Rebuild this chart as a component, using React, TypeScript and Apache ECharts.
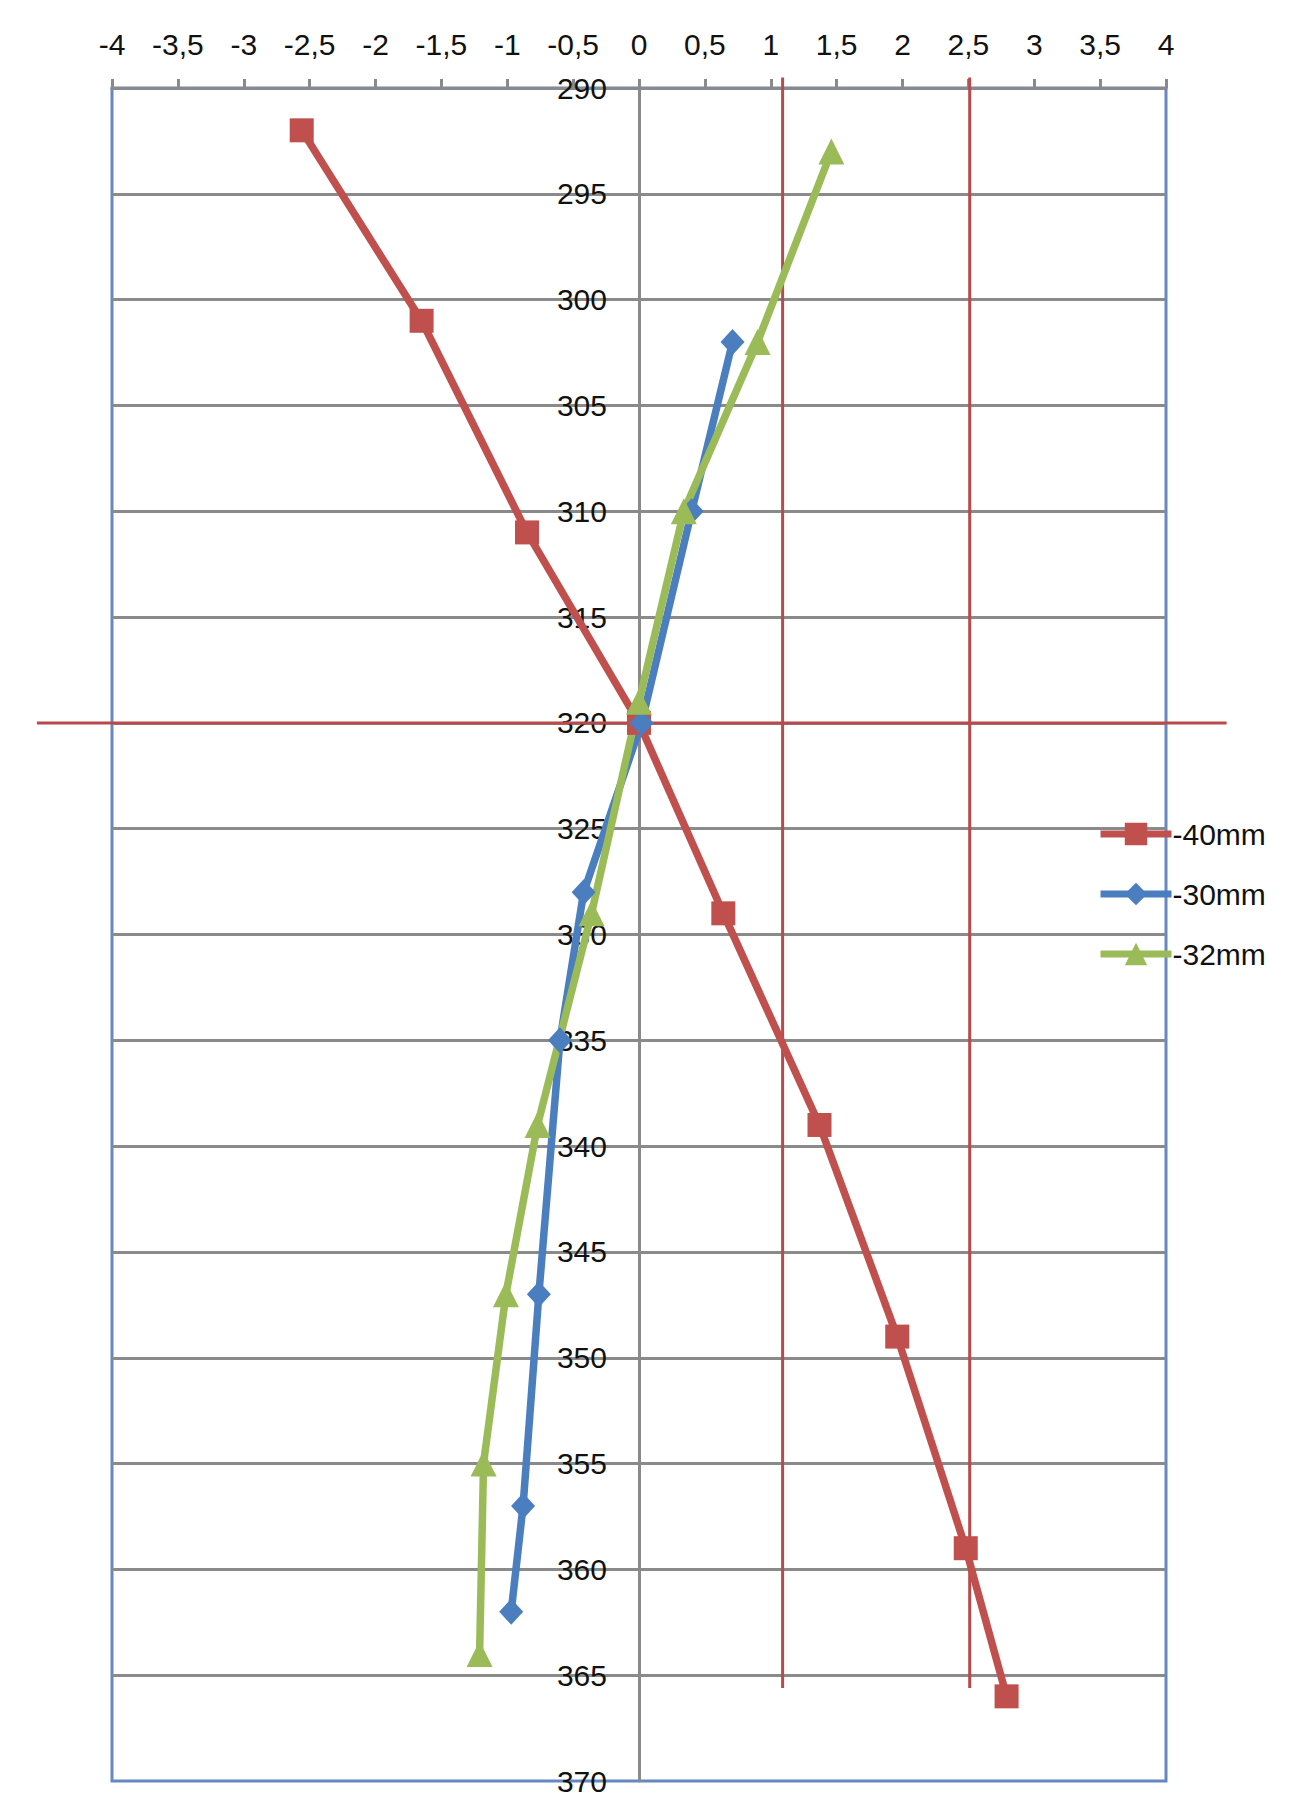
import React, { useEffect, useRef } from "react";
import * as echarts from "echarts";

// Offsets (x) and depths (y) for each series
const depth40 = [292, 301, 311, 320, 329, 339, 349, 359, 366];
const value40 = [-2.56, -1.65, -0.85, 0.0, 0.64, 1.37, 1.96, 2.48, 2.79];

const depth30 = [302, 310, 320, 328, 335, 347, 357, 362];
const value30 = [0.71, 0.4, 0.02, -0.42, -0.6, -0.76, -0.88, -0.97];

const depth32 = [293, 302, 310, 319, 329, 339, 347, 355, 364];
const value32 = [1.46, 0.9, 0.34, 0.0, -0.36, -0.77, -1.01, -1.18, -1.21];

const seriesNames = ["-40mm", "-30mm", "-32mm"];

// Axis ranges
const xMin = -4;
const xMax = 4;
const xInterval = 0.5;
const yMin = 290;
const yMax = 370;
const yInterval = 5;

// Reference lines (data units)
const refVerticalX = [1.09, 2.51];
const refVerticalSpan = [289.5, 365.6];
const refHorizontalY = [320];
const refHorizontalSpan = [-4.57, 4.46];

const FONT = "'Liberation Sans', Arial, sans-serif";

const zip = (xs: number[], ys: number[]) => xs.map((x, i) => [x, ys[i]]);

const W = 1280;
const H = 1791;
const GRID_LEFT = 104;
const GRID_RIGHT = 122;

export default function App() {
  const ref = useRef<HTMLDivElement>(null);

  useEffect(() => {
    if (!ref.current) return;
    const chart = echarts.init(ref.current, undefined, { renderer: "svg" });
    const fmt = (v: number) => String(v).replace(".", ",");
    const gridWidth = W - GRID_LEFT - GRID_RIGHT;
    const yAxisOffset = -gridWidth * ((0 - xMin) / (xMax - xMin));
    chart.setOption({
      animation: false,
      backgroundColor: "#ffffff",
      textStyle: { fontFamily: FONT },
      grid: {
        left: GRID_LEFT,
        right: GRID_RIGHT,
        top: 80,
        bottom: 18,
        show: true,
        borderColor: "#6687c0",
        borderWidth: 3,
        backgroundColor: "transparent",
      },
      legend: {
        orient: "vertical",
        left: 1084,
        top: 806,
        itemWidth: 71,
        itemHeight: 28,
        itemGap: 30,
        lineStyle: { width: 7 },
        textStyle: { color: "#111", fontSize: 30, fontFamily: FONT, padding: [0, 0, 0, -4] },
        data: seriesNames,
      },
      xAxis: {
        type: "value",
        position: "top",
        min: xMin,
        max: xMax,
        interval: xInterval,
        axisLine: { show: true, onZero: false, lineStyle: { color: "#8a8a8a", width: 3 } },
        axisTick: { show: true, length: 9, lineStyle: { color: "#8a8a8a", width: 3 } },
        axisLabel: { color: "#111", fontSize: 30, margin: 29, formatter: fmt, fontFamily: FONT },
        splitLine: { show: false },
      },
      yAxis: {
        type: "value",
        inverse: true,
        position: "left",
        offset: yAxisOffset,
        min: yMin,
        max: yMax,
        interval: yInterval,
        axisLine: { show: true, onZero: false, lineStyle: { color: "#8a8a8a", width: 3 } },
        axisTick: { show: false },
        axisLabel: { color: "#111", fontSize: 30, margin: 32, formatter: fmt, fontFamily: FONT },
        splitLine: { show: true, showMaxLine: false, lineStyle: { color: "#8a8a8a", width: 3 } },
      },
      series: [
        {
          name: seriesNames[0],
          type: "line",
          data: zip(value40, depth40),
          symbol: "rect",
          symbolSize: 24,
          showAllSymbol: true,
          lineStyle: { color: "#c0504d", width: 7.5 },
          itemStyle: { color: "#c0504d" },
          color: "#c0504d",
        },
        {
          name: seriesNames[1],
          type: "line",
          data: zip(value30, depth30),
          symbol: "diamond",
          symbolSize: [24, 26],
          showAllSymbol: true,
          lineStyle: { color: "#4a7ebf", width: 7.5 },
          itemStyle: { color: "#4a7ebf" },
          color: "#4a7ebf",
        },
        {
          name: seriesNames[2],
          type: "line",
          data: zip(value32, depth32),
          symbol: "triangle",
          symbolSize: 26,
          showAllSymbol: true,
          lineStyle: { color: "#9bbb59", width: 7.5 },
          itemStyle: { color: "#9bbb59" },
          color: "#9bbb59",
        },
      ],
    });

    const elements: any[] = [];
    const px = (x: number, y: number) =>
      chart.convertToPixel({ gridIndex: 0 }, [x, y]) as number[];
    refVerticalX.forEach((x) => {
      const a = px(x, refVerticalSpan[0]);
      const b = px(x, refVerticalSpan[1]);
      elements.push({
        type: "line",
        z: 1,
        shape: { x1: a[0], y1: a[1], x2: b[0], y2: b[1] },
        style: { stroke: "#b94a4c", lineWidth: 3 },
      });
    });
    refHorizontalY.forEach((y) => {
      const a = px(refHorizontalSpan[0], y);
      const b = px(refHorizontalSpan[1], y);
      elements.push({
        type: "line",
        z: 1,
        shape: { x1: a[0], y1: a[1], x2: b[0], y2: b[1] },
        style: { stroke: "#b94a4c", lineWidth: 3 },
      });
    });
    chart.setOption({ graphic: { elements } });

    return () => chart.dispose();
  }, []);

  return <div ref={ref} style={{ width: W, height: H }} />;
}
